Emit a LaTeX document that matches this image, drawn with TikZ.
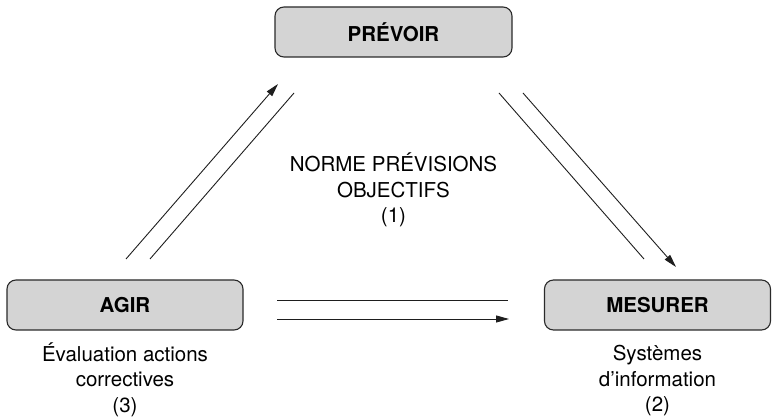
\documentclass[tikz,border=0pt]{standalone}
\usepackage{fontspec}
\setmainfont{TeX Gyre Heros}
\usetikzlibrary{arrows.meta}
\definecolor{boxfill}{HTML}{D4D4D4}
\definecolor{boxline}{HTML}{2A2A2A}
\definecolor{inkline}{HTML}{1E1E1E}
\tikzset{
  stage/.style={draw=boxline, line width=1.1pt, fill=boxfill, rounded corners=9pt,
    minimum height=50pt, inner sep=0pt, font=\fontsize{20.5}{25.5}\selectfont\bfseries},
  % multi-line captions are placed by the baseline of their last line
  caption/.style={align=center, inner sep=0pt, anchor=base,
    font=\fontsize{20.5}{25.5}\selectfont},
  flow/.style={draw=inkline, line width=0.9pt},
  flowarrow/.style={flow, -{Triangle[length=13pt,width=7pt]}}
}
\begin{document}
\begin{tikzpicture}[x=1pt,y=-1pt]
  \useasboundingbox (0,0) rectangle (772,419);

  % the three stages of the control loop
  \node[stage, minimum width=237pt] (prevoir) at (393.5,32) {PRÉVOIR};
  \node[stage, minimum width=236pt] (agir) at (125,305) {AGIR};
  \node[stage, minimum width=226pt] (mesurer) at (657.5,305) {MESURER};

  % captions
  \node[caption] (norme) at (393.5,223) {NORME PRÉVISIONS\\OBJECTIFS\\(1)};
  \node[caption] (evaluation) at (125,412.5) {Évaluation actions\\correctives\\(3)};
  \node[caption] (systemes) at (657.5,412) {Systèmes\\d’information\\(2)};

  % end points of the paired flow lines
  \coordinate (aL1) at (126,259);  \coordinate (pL1) at (278,84);
  \coordinate (aL2) at (150,259);  \coordinate (pL2) at (294,93);
  \coordinate (pR1) at (499,93);   \coordinate (mR1) at (644,259);
  \coordinate (pR2) at (523,93);   \coordinate (mR2) at (676,267);
  \coordinate (aH1) at (277,300.5); \coordinate (mH1) at (508,300.5);
  \coordinate (aH2) at (277,319);   \coordinate (mH2) at (509,319);

  % AGIR -> PRÉVOIR
  \draw[flowarrow] (aL1) -- (pL1);
  \draw[flow] (aL2) -- (pL2);
  % PRÉVOIR -> MESURER
  \draw[flow] (pR1) -- (mR1);
  \draw[flowarrow] (pR2) -- (mR2);
  % AGIR -> MESURER
  \draw[flow] (aH1) -- (mH1);
  \draw[flowarrow] (aH2) -- (mH2);
\end{tikzpicture}
\end{document}
